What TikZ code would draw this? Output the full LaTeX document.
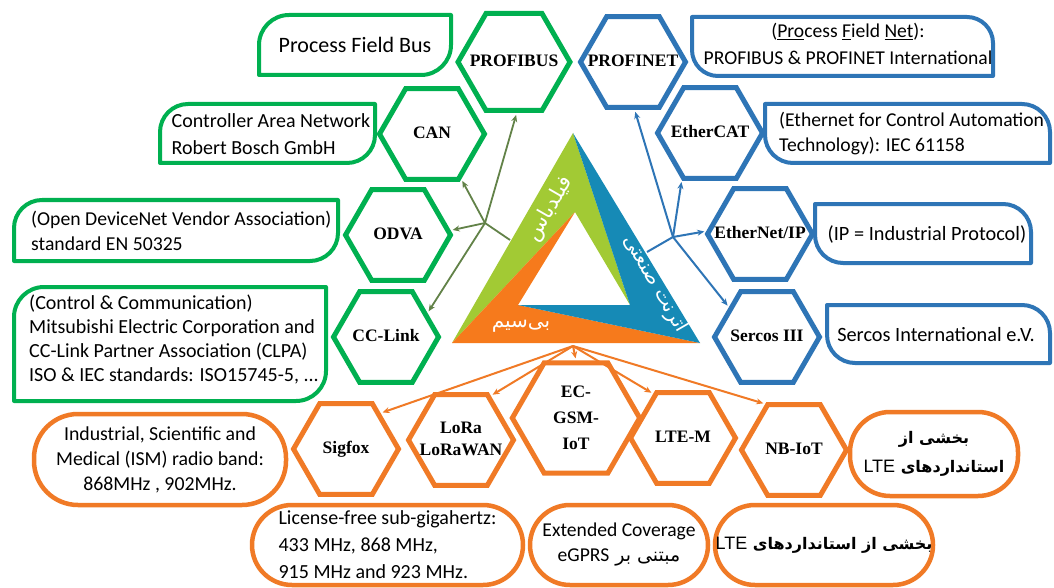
\documentclass[tikz,border=0pt]{standalone}
\usepackage{fontspec}
\setmainfont{Carlito}
\newfontfamily\hexfont{Liberation Serif}
\newfontfamily\arabicfont[Script=Arabic]{DejaVu Sans}
\newfontfamily\latfont{Liberation Sans}
\TeXXeTstate=1
\usetikzlibrary{shapes.geometric,arrows.meta}
\definecolor{cGreen}{RGB}{0,176,80}
\definecolor{cBlue}{RGB}{46,117,182}
\definecolor{cOrange}{RGB}{240,122,38}
\definecolor{cTriGreen}{RGB}{162,202,52}
\definecolor{cTriTeal}{RGB}{22,138,182}
\definecolor{cTriOrange}{RGB}{246,122,28}
\definecolor{cGline}{RGB}{98,130,72}
\newcommand\hexlbl[1]{\makebox[0pt]{\begin{tabular}{@{}c@{}}#1\end{tabular}}}
% rounded top-left and bottom-right corners
\newcommand\boxTL[6]{\draw[#1] (#2,#3+#6) .. controls (#2,#3+0.45*#6) and (#2+0.45*#6,#3) .. (#2+#6,#3) -- (#4,#3) -- (#4,#5-#6) .. controls (#4,#5-0.45*#6) and (#4-0.45*#6,#5) .. (#4-#6,#5) -- (#2,#5) -- cycle;}
% rounded top-right and bottom-left corners
\newcommand\boxTR[6]{\draw[#1] (#2,#3) -- (#4-#6,#3) .. controls (#4-0.45*#6,#3) and (#4,#3+0.45*#6) .. (#4,#3+#6) -- (#4,#5) -- (#2+#6,#5) .. controls (#2+0.45*#6,#5) and (#2,#5-0.45*#6) .. (#2,#5-#6) -- cycle;}
\tikzset{
  hexg/.style={regular polygon, regular polygon sides=6, minimum size=105pt, inner sep=0pt,
    draw=cGreen, line width=5pt, fill=white, text=black,
    font=\hexfont\bfseries\fontsize{17.5}{22}\selectfont},
  hexb/.style={hexg, draw=cBlue},
  hexo/.style={hexg, draw=cOrange},
  gbox/.style={draw=cGreen, line width=4pt, line join=round},
  bbox/.style={draw=cBlue, line width=4pt, line join=round},
  obox/.style={draw=cOrange, line width=4.5pt, rounded corners=40pt, fill=white, align=center,
    inner sep=0pt, font=\fontsize{19.8}{25}\selectfont},
  bxtext/.style={inner sep=0pt, font=\fontsize{20}{25}\selectfont, text=black},
  tritext/.style={inner sep=0pt, text=white, font=\arabicfont\fontsize{20}{22}\selectfont},
  gline/.style={draw=cGline, line width=1.8pt},
  garr/.style={gline, shorten >=2pt, -{Stealth[length=7pt,width=6pt]}},
  bline/.style={draw=cBlue, line width=2pt},
  barr/.style={bline, shorten >=2pt, -{Stealth[length=7pt,width=6pt]}},
  oarr/.style={draw=cOrange, line width=2pt, shorten >=2pt, -{Stealth[length=7pt,width=6pt]}}
}
\begin{document}
\begin{tikzpicture}[x=1pt,y=-1pt]
\path[use as bounding box, fill=white] (0,0) rectangle (1054,588);

% central triangle
\coordinate (T) at (573,133);
\coordinate (L) at (452,343);
\coordinate (R) at (700,343);
\coordinate (Ti) at (575,212);
\coordinate (Li) at (518,305);
\coordinate (Ri) at (630,305);
\fill[cTriGreen] (T) -- (L) -- (Ti) -- (Ri) -- cycle;
\fill[cTriOrange] (L) -- (R) -- (Li) -- (Ti) -- cycle;
\fill[cTriTeal] (R) -- (T) -- (Ri) -- (Li) -- cycle;
\node[tritext, rotate=60, font=\arabicfont\fontsize{21}{22}\selectfont] (tfield) at (550,209) {\beginR فیلدباس\endR};
\node[tritext, rotate=-60] (tether) at (655,284) {\beginR اترنت صنعتی\endR};
\node[tritext] (twless) at (521,326) {\beginR بی‌سیم\endR};

% green boxes
\boxTL{gbox}{259}{15}{451}{75}{30}
\node[bxtext, font=\fontsize{22}{25}\selectfont] (tpfb) at (355,45) {Process Field Bus};
\boxTL{gbox}{160}{104}{375}{163}{28}
\node[bxtext, align=left, font=\fontsize{20}{27}\selectfont] (tcan) at (271,134) {Controller Area Network\\Robert Bosch GmbH};
\boxTL{gbox}{14}{200}{338}{261}{28}
\node[bxtext, align=left, anchor=west, font=\fontsize{19.7}{25}\selectfont] (todva) at (31,231) {(Open DeviceNet Vendor Association)\\standard EN 50325};
\boxTL{gbox}{14}{287}{326}{401}{30}
\node[bxtext, align=left, anchor=west, font=\fontsize{20}{24}\selectfont] (tcc) at (29,339) {(Control \& Communication)\\Mitsubishi Electric Corporation and\\CC-Link Partner Association (CLPA)\\ISO \& IEC standards: ISO15745-5, ...};

% blue boxes
\boxTR{bbox}{692}{17}{993}{76}{26}
\node[bxtext, align=center, font=\fontsize{19.6}{27}\selectfont] (tpfn) at (848,44) {(\underline{Pro}cess \underline{F}ield \underline{Net}):\\PROFIBUS \& PROFINET International};
\boxTR{bbox}{765}{104}{1050}{163}{28}
\node[bxtext, align=left, anchor=west, font=\fontsize{19.6}{25}\selectfont] (tecat) at (779,134) {(Ethernet for Control Automation\\Technology): IEC 61158};
\boxTR{bbox}{815}{204}{1031}{263}{28}
\node[bxtext, font=\fontsize{20.3}{25}\selectfont] (teip) at (927,234) {(IP = Industrial Protocol)};
\boxTR{bbox}{827}{305}{1050}{363}{28}
\node[bxtext, font=\fontsize{20.3}{25}\selectfont] (tsercos) at (936,335) {Sercos International e.V.};

% orange boxes
\node[obox, minimum width=252pt, minimum height=91pt, rounded corners=44pt] (ism) at (160,459.5) {Industrial, Scientific and\\Medical (ISM) radio band:\\868MHz , 902MHz.};
\node[obox, align=left, minimum width=271pt, minimum height=80pt, font=\fontsize{20}{27}\selectfont] (lfree) at (387.5,545) {License-free sub-gigahertz:\\433 MHz, 868 MHz,\\915 MHz and 923 MHz.};
\node[obox, minimum width=178pt, minimum height=80pt, font=\fontsize{19.6}{25}\selectfont] (ecov) at (619,545) {Extended Coverage\\{\arabicfont\fontsize{19}{25}\selectfont\beginR مبتنی بر \beginL{\rmfamily\fontsize{19.6}{25}\selectfont eGPRS}\endL\endR}};
\node[obox, minimum width=218pt, minimum height=80pt, font=\arabicfont\bfseries\fontsize{16}{25}\selectfont] (lte1) at (824,545) {\beginR بخشی از استانداردهای \beginL{\latfont\mdseries\fontsize{18}{25}\selectfont LTE}\endL\endR};
\node[obox, minimum width=168pt, minimum height=84pt, font=\arabicfont\bfseries\fontsize{16}{29}\selectfont] (lte2) at (934,454) {\beginR بخشی از\endR\\\beginR استانداردهای \beginL{\latfont\mdseries\fontsize{18}{25}\selectfont LTE}\endL\endR};

% hexagons
\node[hexg, minimum size=112pt] (profibus) at (514,62) {\hexlbl{PROFIBUS}};
\node[hexg] (can) at (432,134) {\hexlbl{CAN}};
\node[hexg] (odva) at (398,235) {\hexlbl{ODVA}};
\node[hexg] (cclink) at (386,337) {\hexlbl{CC-Link}};
\node[hexb] (profinet) at (633,62) {\hexlbl{PROFINET}};
\node[hexb] (ethercat) at (710,133) {\hexlbl{EtherCAT}};
\node[hexb] (eip) at (760,234) {\hexlbl{EtherNet/IP}};
\node[hexb] (sercos) at (767,337) {\hexlbl{Sercos III}};
\node[hexo] (sigfox) at (346,449) {\hexlbl{Sigfox}};
\node[hexo] (lora) at (461,440) {\hexlbl{LoRa\\LoRaWAN}};
\node[hexo, font=\hexfont\bfseries\fontsize{17.5}{26}\selectfont] (ecgsm) at (576,418) {\hexlbl{EC-\\GSM-\\IoT}};
\node[hexo] (ltem) at (683,438) {\hexlbl{LTE-M}};
\node[hexo] (nbiot) at (794,450) {\hexlbl{NB-IoT}};

% connectors
\coordinate (gs) at (510,240);
\coordinate (gh) at (485,223);
\draw[gline] (gs) -- (gh);
\draw[garr] (gh) -- (profibus.-87);
\draw[garr] (gh) -- (can.-57);
\draw[garr] (gh) -- (odva.5);
\draw[garr] (gh) -- (cclink.30);
\coordinate (bs) at (647,252);
\coordinate (bh) at (673,237);
\draw[bline] (bs) -- (bh);
\draw[barr] (bh) -- (profinet.-88);
\draw[barr] (bh) -- (ethercat.-121);
\draw[barr] (bh) -- (eip.177);
\draw[barr] (bh) -- (sercos.142);
\coordinate (os) at (573,346);
\draw[oarr] (os) -- (sigfox.46);
\draw[oarr] (os) -- (lora.56);
\draw[oarr] (os) -- (ecgsm.90);
\draw[oarr] (os) -- (ltem.124);
\draw[oarr] (os) -- (nbiot.122);
\end{tikzpicture}
\end{document}
